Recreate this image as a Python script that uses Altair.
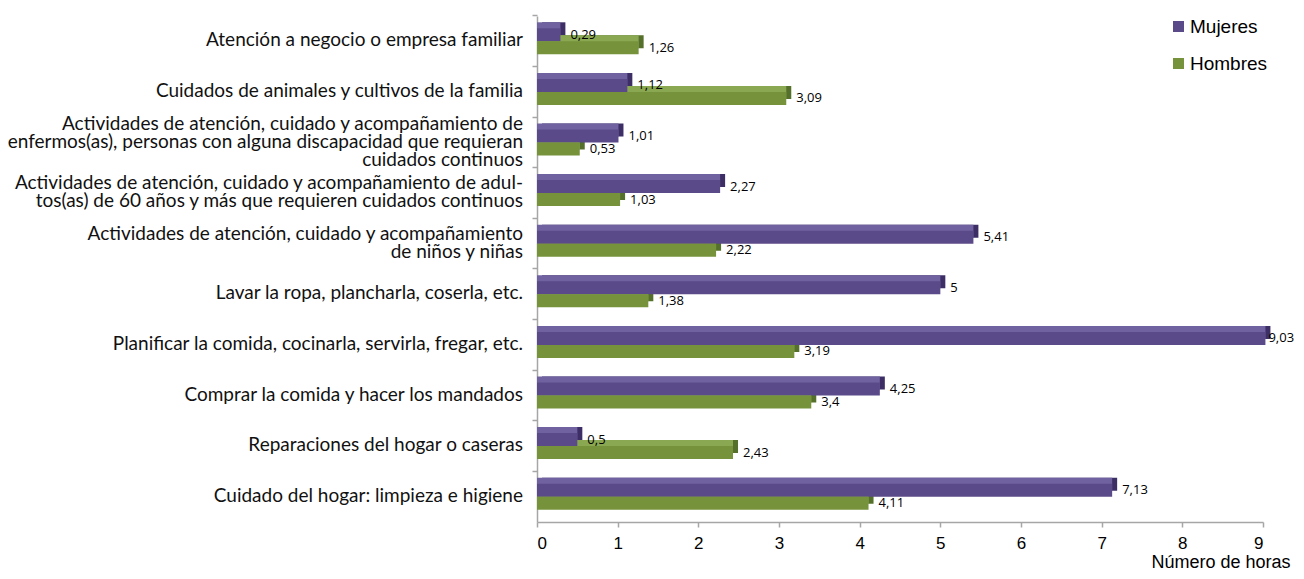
import altair as alt
import pandas as pd

categories = [
    "Atención a negocio o empresa familiar",
    "Cuidados de animales y cultivos de la familia",
    "Actividades de atención, cuidado y acompañamiento de|enfermos(as), personas con alguna discapacidad que requieran|cuidados continuos",
    "Actividades de atención, cuidado y acompañamiento de adul-|tos(as) de 60 años y más que requieren cuidados continuos",
    "Actividades de atención, cuidado y acompañamiento|de niños y niñas",
    "Lavar la ropa, plancharla, coserla, etc.",
    "Planificar la comida, cocinarla, servirla, fregar, etc.",
    "Comprar la comida y hacer los mandados",
    "Reparaciones del hogar o caseras",
    "Cuidado del hogar: limpieza e higiene",
]
mujeres = [0.29, 1.12, 1.01, 2.27, 5.41, 5.0, 9.03, 4.25, 0.5, 7.13]
hombres = [1.26, 3.09, 0.53, 1.03, 2.22, 1.38, 3.19, 3.4, 2.43, 4.11]
series = ["Mujeres", "Hombres"]
x_ticks = [0, 1, 2, 3, 4, 5, 6, 7, 8, 9]

front_colors = ["#5b4a89", "#76933c"]
top_colors = ["#7062a0", "#8aa852"]
end_colors = ["#3d2f66", "#55702a"]

rows = []
for c, m, h in zip(categories, mujeres, hombres):
    rows.append({"cat": c, "serie": "Mujeres", "v": m})
    rows.append({"cat": c, "serie": "Hombres", "v": h})
df = pd.DataFrame(rows)
df["lab"] = df["v"].map(lambda v: f"{v:g}".replace(".", ","))

lab_df = pd.DataFrame({"cat": categories})
lab_df["n"] = lab_df["cat"].map(lambda s: s.count("|") + 1)

W, H = 726, 506
GRAY = "#a6a6a6"
y_scale = alt.Scale(paddingInner=0.486, paddingOuter=0.243)
y_enc = alt.Y("cat:N", sort=categories, scale=y_scale,
              axis=alt.Axis(labels=False, title=None, domain=True, domainColor=GRAY,
                            domainWidth=1.5, ticks=True, tickColor=GRAY, tickSize=5,
                            tickWidth=1.5, bandPosition=-0.4728))
x_enc = alt.X("v:Q", scale=alt.Scale(domain=[0, 9], nice=False),
              axis=alt.Axis(values=x_ticks, format="d", title="Número de horas",
                            titleAlign="right", titleX=W + 27, titleY=45,
                            titleBaseline="alphabetic",
                            titleFont="Liberation Sans", titleFontSize=18,
                            titleFontWeight="normal", titleColor="#000",
                            labelFont="Liberation Sans", labelFontSize=17,
                            labelColor="#000", labelPadding=8, domainColor=GRAY,
                            domainWidth=1.5, tickColor=GRAY, tickSize=5, tickWidth=1.5,
                            grid=False))

base = alt.Chart(df)


def off(rng):
    return alt.YOffset("serie:N", sort=series,
                       scale=alt.Scale(domain=series, range=rng))


end_face = base.mark_bar(xOffset=5).encode(
    x=x_enc, y=y_enc, yOffset=off([-6, 20]),
    color=alt.Color("serie:N", scale=alt.Scale(domain=series, range=end_colors), legend=None),
)

top_face = base.mark_bar().encode(
    x=x_enc, y=y_enc, yOffset=off([-6, 20]),
    color=alt.Color("serie:N", scale=alt.Scale(domain=series, range=top_colors), legend=None),
)

front = base.mark_bar().encode(
    x=x_enc, y=y_enc, yOffset=off([0, 26]),
    color=alt.Color("serie:N", scale=alt.Scale(domain=series, range=front_colors),
                    legend=alt.Legend(title=None, orient="none", legendX=632, legendY=1,
                                      symbolType="square", symbolSize=121, symbolStrokeWidth=0,
                                      labelFont="Liberation Sans", labelFontSize=19,
                                      labelColor="#000", labelOffset=2, rowPadding=17,
                                      padding=0)),
)

values = base.mark_text(align="left", baseline="middle", dx=10, font="Open Sans",
                        fontSize=13, color="#000").encode(
    x=alt.X("v:Q"), y=alt.Y("cat:N", sort=categories), yOffset=off([0, 26]),
    text="lab:N",
)
values_last = values.transform_filter(alt.datum.v > 8.5).mark_text(
    align="left", baseline="middle", dx=3, font="Open Sans", fontSize=13, color="#000")
values = values.transform_filter(alt.datum.v <= 8.5)

label_layers = []
for n in [1, 2, 3]:
    label_layers.append(
        alt.Chart(lab_df).transform_filter(alt.datum.n == n).mark_text(
            align="right", baseline="middle", lineBreak="|", lineHeight=18, font="Lato",
            fontSize=19, color="#111", dy=-(n - 1) * 9 - 1,
        ).encode(
            x=alt.value(-14), y=alt.Y("cat:N", sort=categories), text="cat:N",
        )
    )

chart = alt.layer(end_face, top_face, front, values, values_last, *label_layers).resolve_scale(
    color="independent", yOffset="independent"
).properties(
    width=W, height=H,
    padding={"left": 529, "top": 8, "right": 1288 - 529 - W, "bottom": 49},
    autosize=alt.AutoSizeParams(type="none"),
).configure_view(stroke=None)

chart.save("out.html", embed_options={"renderer": "svg", "actions": False})
